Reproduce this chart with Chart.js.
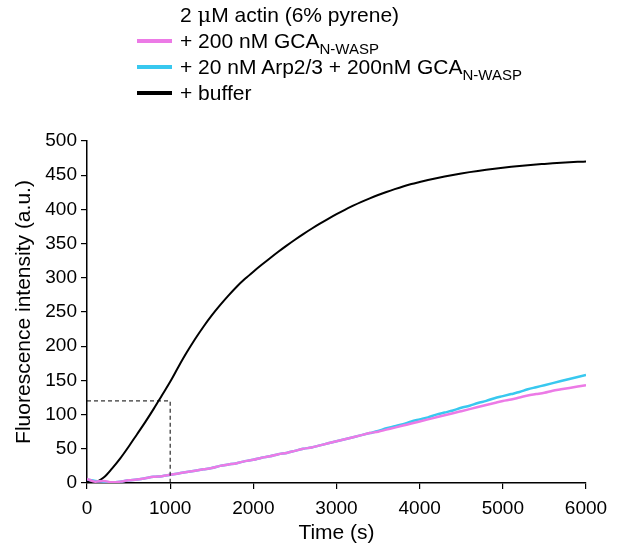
<!DOCTYPE html>
<html>
<head>
<meta charset="utf-8">
<script src="https://cdn.jsdelivr.net/npm/chart.js@4/dist/chart.umd.min.js"></script>
<style>
  html, body { margin: 0; padding: 0; background: #fff; }
  #wrap { position: relative; width: 618px; height: 548px; }
  #legend { position: absolute; left: 0; top: 0; width: 618px; height: 110px;
            font-family: "Liberation Sans", Arial, sans-serif; font-size: 21px; color: #000; }
  .row { position: absolute; left: 180px; height: 24px; line-height: 24px; white-space: nowrap; }
  .swatch { position: absolute; left: 137px; width: 35px; height: 4px; }
  sub { font-size: 15px; vertical-align: -6px; line-height: 0; }
  .mu { font-family: "DejaVu Serif", "Liberation Serif", serif; }
</style>
</head>
<body>
<div id="wrap">
  <canvas id="chart" width="618" height="548"></canvas>
  <div id="legend"></div>
</div>
<script>
// Sample times (s)
const times = [
  0, 100, 200, 300, 400, 500, 600, 700, 800, 900,
  1000, 1100, 1200, 1300, 1400, 1500, 1600, 1700, 1800, 1900,
  2000, 2100, 2200, 2300, 2400, 2500, 2600, 2700, 2800, 2900,
  3000, 3100, 3200, 3300, 3400, 3500, 3600, 3700, 3800, 3900,
  4000, 4100, 4200, 4300, 4400, 4500, 4600, 4700, 4800, 4900,
  5000, 5100, 5200, 5300, 5400, 5500, 5600, 5700, 5800, 5900, 6000
];

// Fluorescence (a.u.), actin + buffer
const bufferValues = [
  3, 2, 8, 21, 36, 53, 71, 89, 108, 128,
  148, 170, 191, 210.5, 228.5, 245, 260, 274, 287, 298.5,
  309, 319, 328.7, 338.1, 347.1, 355.7, 363.9, 371.7, 379.1, 386.2,
  393, 399.4, 405.4, 411, 416.2, 421, 425.5, 429.7, 433.6, 437,
  440, 442.9, 445.6, 448.1, 450.4, 452.5, 454.5, 456.3, 458, 459.6,
  461, 462.3, 463.5, 464.6, 465.6, 466.5, 467.4, 468.2, 468.9, 469.5, 470
];

// Fluorescence (a.u.), actin + 200 nM GCA
const gcaValues = [
  6, 2, 3, 1, 2, 4, 5, 7, 9, 10,
  12, 14, 16, 18, 20, 22, 25, 27, 29, 32,
  34, 37, 39, 42, 44, 47, 50, 52, 55, 58,
  61, 64, 67, 70, 73, 75, 78, 81, 84, 87,
  90, 93, 96, 99, 102, 105, 108, 111, 114, 117,
  120, 122, 125, 128, 130, 132, 135, 137, 139, 141, 143
];

// Fluorescence (a.u.), actin + 20 nM Arp2/3 + 200 nM GCA
const arpGcaValues = [
  5, 3, 2, 1, 2, 4, 5, 7, 9, 10,
  12, 14, 16, 18, 20, 22, 25, 27, 29, 32,
  34, 37, 39, 42, 44, 47, 50, 52, 55, 58,
  61, 64, 67, 70, 73, 76, 80, 83, 86, 90,
  93, 96, 100, 103, 106, 110, 113, 117, 120, 124,
  127, 130, 133, 137, 140, 143, 146, 149, 152, 155, 158
];

// Dashed guide marking 120 a.u. at 1000 s
const guideX = [0, 1000, 1000];
const guideY = [120, 120, 0];

const yTicks = [0, 50, 100, 150, 200, 250, 300, 350, 400, 450, 500];
const xTicks = [0, 1000, 2000, 3000, 4000, 5000, 6000];

const PINK = '#ec7ae6';
const CYAN = '#38c8ef';
const BLACK = '#000000';

const legendItems = [
  { color: null,  html: '2 <span class="mu">\u03bc</span>M actin (6% pyrene)', y: 15 },
  { color: PINK,  html: '+ 200 nM GCA<sub>N-WASP</sub>', y: 41 },
  { color: CYAN,  html: '+ 20 nM Arp2/3 + 200nM GCA<sub>N-WASP</sub>', y: 67 },
  { color: BLACK, html: '+ buffer', y: 93 }
];

const legend = document.getElementById('legend');
legendItems.forEach(item => {
  const row = document.createElement('div');
  row.className = 'row';
  row.style.top = (item.y - 12) + 'px';
  row.innerHTML = item.html;
  legend.appendChild(row);
  if (item.color) {
    const sw = document.createElement('div');
    sw.className = 'swatch';
    sw.style.top = (item.y - 2) + 'px';
    sw.style.background = item.color;
    legend.appendChild(sw);
  }
});

const toPoints = (xs, ys) => xs.map((x, i) => ({ x: x, y: ys[i] }));

const FONT = { family: '"Liberation Sans", Arial, sans-serif', size: 19 };
const TITLE_FONT = { family: '"Liberation Sans", Arial, sans-serif', size: 21 };

new Chart(document.getElementById('chart'), {
  type: 'line',
  data: {
    datasets: [
      { label: 'guide', data: toPoints(guideX, guideY), borderColor: '#000', borderWidth: 1,
        borderDash: [4, 3], pointRadius: 0, tension: 0 },
      { label: '+ 200 nM GCA', data: toPoints(times, gcaValues), borderColor: PINK, borderWidth: 2.5,
        pointRadius: 0, cubicInterpolationMode: 'monotone' },
      { label: '+ 20 nM Arp2/3 + 200nM GCA', data: toPoints(times, arpGcaValues), borderColor: CYAN, borderWidth: 2.5,
        pointRadius: 0, cubicInterpolationMode: 'monotone' },
      { label: '+ buffer', data: toPoints(times, bufferValues), borderColor: BLACK, borderWidth: 2,
        pointRadius: 0, cubicInterpolationMode: 'monotone' }
    ]
  },
  options: {
    responsive: false,
    animation: false,
    events: [],
    layout: { padding: { top: 141, right: 32, bottom: 0, left: 0 } },
    plugins: { legend: { display: false }, tooltip: { enabled: false } },
    scales: {
      x: {
        type: 'linear', min: 0, max: 6000,
        afterBuildTicks: s => { s.ticks = xTicks.map(v => ({ value: v })); },
        afterFit: s => { s.height = 65; },
        grid: { drawOnChartArea: false, drawTicks: true, tickLength: 6, color: '#000', lineWidth: 1.2 },
        border: { color: '#000', width: 1.5 },
        ticks: { color: '#000', font: FONT, padding: 8, maxRotation: 0, callback: v => String(v) },
        title: { display: true, text: 'Time (s)', color: '#000', font: TITLE_FONT,
                 padding: { top: 0, bottom: 2 } }
      },
      y: {
        type: 'linear', min: 0, max: 500,
        afterBuildTicks: s => { s.ticks = yTicks.map(v => ({ value: v })); },
        afterFit: s => { s.width = 87; },
        grid: { drawOnChartArea: false, drawTicks: true, tickLength: 6, color: '#000', lineWidth: 1.2 },
        border: { color: '#000', width: 1.5 },
        ticks: { color: '#000', font: FONT, padding: 4, callback: v => String(v) },
        title: { display: true, text: 'Fluorescence intensity (a.u.)', color: '#000', font: TITLE_FONT,
                 padding: { top: 12, bottom: 0 } }
      }
    }
  }
});
</script>
</body>
</html>
